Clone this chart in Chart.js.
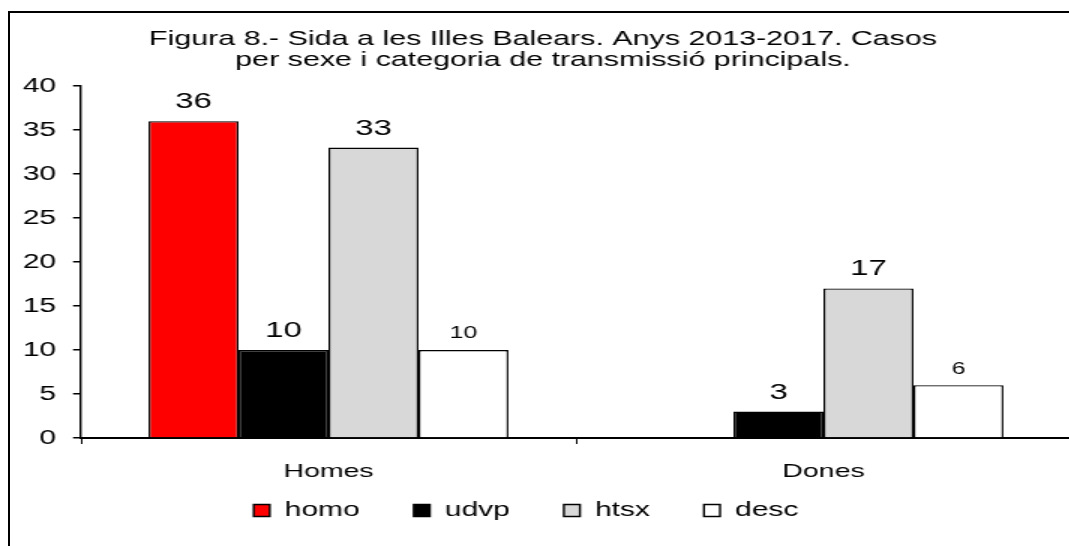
<!DOCTYPE html>
<html>
<head>
<meta charset="utf-8">
<script src="https://cdn.jsdelivr.net/npm/chart.js@4.4.1/dist/chart.umd.min.js"></script>
<style>
  html, body { margin: 0; padding: 0; background: #ffffff; overflow: hidden; width: 1069px; height: 546px; }
  #frame { position: absolute; left: 8px; top: 11px; width: 1200px; height: 700px; border: 2px solid #000; box-sizing: border-box; }
  #wrap { position: absolute; left: 0; top: 0; width: 724px; height: 546px; transform: scaleX(1.5); transform-origin: 0 0; }
  canvas { display: block; }
</style>
</head>
<body>
<div id="frame"></div>
<div id="wrap"><canvas id="c" width="724" height="546"></canvas></div>
<script>
// ---- data ----
const categories = ['Homes', 'Dones'];
const seriesNames = ['homo', 'udvp', 'htsx', 'desc'];
const homo = [36, null];
const udvp = [10, 3];
const htsx = [33, 17];
const desc = [10, 6];
const yTicks = [0, 5, 10, 15, 20, 25, 30, 35, 40];
const titleLines = [
  'Figura 8.- Sida a les Illes Balears. Anys 2013-2017. Casos',
  'per sexe i categoria de transmissió principals.'
];

const FONT = '"Liberation Sans", Arial, Helvetica, sans-serif';
Chart.defaults.font.family = FONT;
Chart.defaults.color = '#000';

const valueLabels = {
  id: 'valueLabels',
  afterDatasetsDraw(chart) {
    const ctx = chart.ctx;
    chart.data.datasets.forEach((ds, i) => {
      const meta = chart.getDatasetMeta(i);
      meta.data.forEach((bar, j) => {
        const v = ds.data[j];
        if (v === null || v === undefined) return;
        ctx.save();
        ctx.font = ds.labelSize + 'px ' + FONT;
        ctx.fillStyle = '#000';
        ctx.textAlign = 'center';
        ctx.textBaseline = 'alphabetic';
        ctx.fillText(String(v), bar.x, bar.y - ds.labelGap);
        ctx.restore();
      });
    });
  }
};

const legendShift = {
  id: 'legendShift',
  afterLayout(chart, args, opts) {
    const lg = chart.legend;
    if (!lg) return;
    lg.left += opts.dx; lg.right += opts.dx;
    lg.top += opts.dy; lg.bottom += opts.dy;
  }
};

const barBase = { borderColor: '#000', borderWidth: 1.4, categoryPercentage: 0.727, barPercentage: 1.0 };

new Chart(document.getElementById('c'), {
  type: 'bar',
  data: {
    labels: categories,
    datasets: [
      Object.assign({ label: seriesNames[0], data: homo, backgroundColor: '#FF0000', labelSize: 22, labelGap: 13 }, barBase),
      Object.assign({ label: seriesNames[1], data: udvp, backgroundColor: '#000000', labelSize: 22, labelGap: 13 }, barBase),
      Object.assign({ label: seriesNames[2], data: htsx, backgroundColor: '#D8D8D8', labelSize: 22, labelGap: 13 }, barBase),
      Object.assign({ label: seriesNames[3], data: desc, backgroundColor: '#FFFFFF', labelSize: 16.5, labelGap: 11.7 }, barBase)
    ]
  },
  options: {
    responsive: false,
    animation: false,
    layout: { padding: { left: 10, right: 10, top: 0, bottom: 0 } },
    plugins: {
      title: {
        display: true,
        text: titleLines,
        color: '#000',
        font: { size: 20.3, weight: 'normal', lineHeight: 1.04 },
        padding: { top: 29, bottom: 14.8 }
      },
      legend: {
        position: 'bottom',
        labels: {
          boxWidth: 10.7,
          boxHeight: 12,
          padding: 36,
          color: '#000',
          font: { size: 20 }
        }
      },
      legendShift: { dx: -11.3, dy: -15.5 },
      tooltip: { enabled: false }
    },
    scales: {
      x: {
        afterFit(scale) { scale.height = 42; },
        grid: { display: true, drawOnChartArea: false, drawTicks: true, tickLength: 6, color: '#000', lineWidth: 1 },
        border: { display: true, color: '#000', width: 2 },
        ticks: { font: { size: 19 }, color: '#000', padding: 16 }
      },
      y: {
        min: 0,
        max: 40,
        afterBuildTicks(scale) { scale.ticks = yTicks.map(v => ({ value: v })); },
        afterFit(scale) { scale.width = 44; },
        grid: { display: true, drawOnChartArea: false, drawTicks: true, tickLength: 5.3, color: '#000', lineWidth: 1.5 },
        border: { display: true, color: '#000', width: 1.4 },
        ticks: { font: { size: 20 }, color: '#000', padding: 11.3 }
      }
    }
  },
  plugins: [valueLabels, legendShift]
});
</script>
</body>
</html>
